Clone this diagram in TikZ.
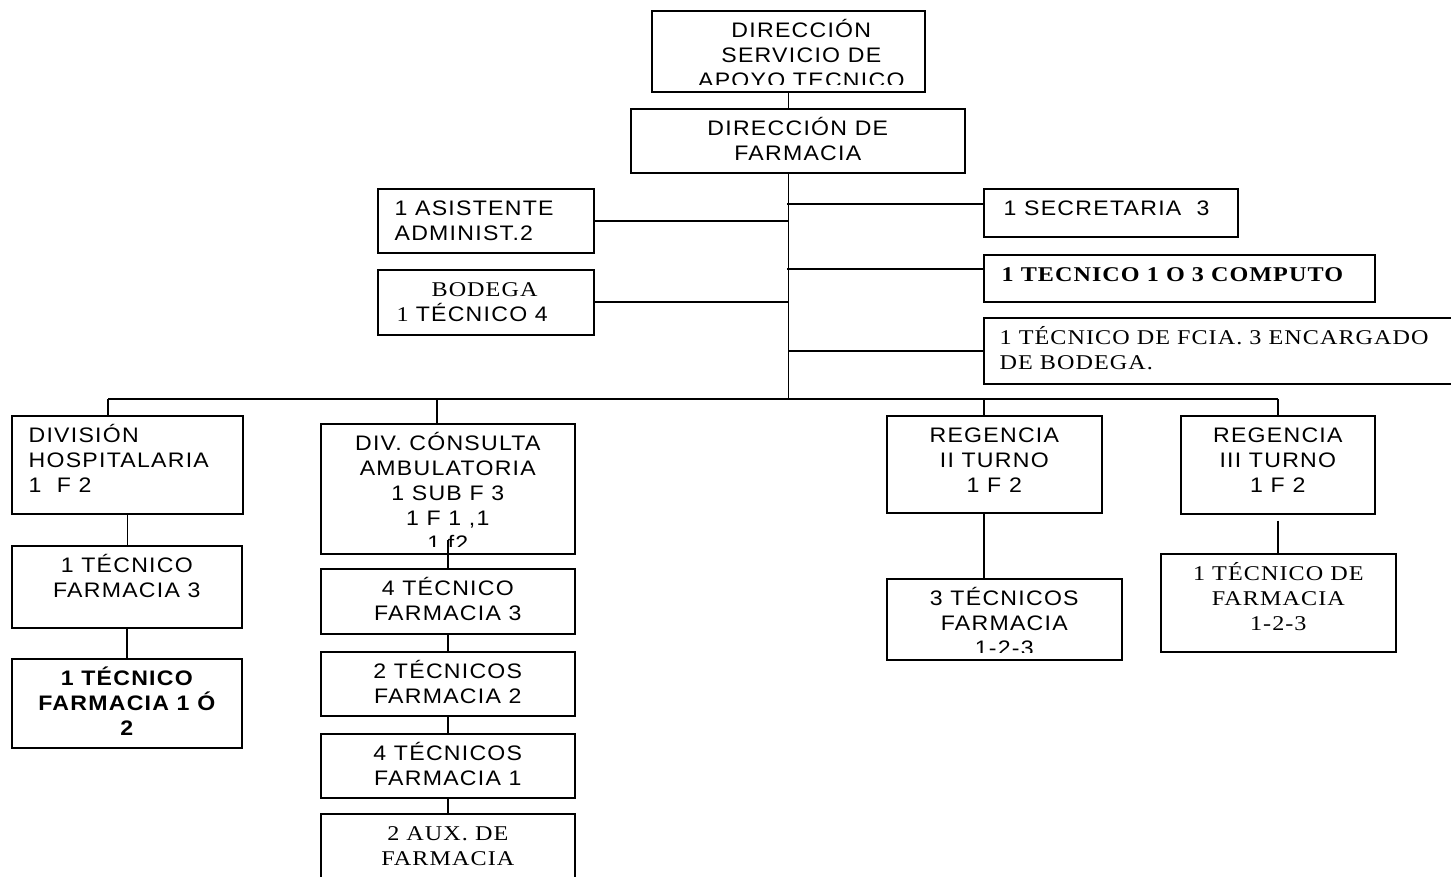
\documentclass[tikz,border=0pt]{standalone}
\usepackage{fontspec}
\setmainfont{Liberation Sans}
\newfontfamily\arialf{Liberation Sans}[FakeStretch=1.1,LetterSpace=6]
\newfontfamily\timesf{Liberation Serif}[FakeStretch=1.15,LetterSpace=5]
\newcommand\sansfnt{\arialf\fontsize{21pt}{25pt}\selectfont}
\newcommand\seriffnt{\timesf\fontsize{21pt}{25pt}\selectfont}
\newcommand\firstln{\rule{0pt}{26pt}}
\tikzset{
  orgbox/.style={draw=black, line width=1.6pt, inner sep=0pt, anchor=north west, rectangle},
  conn/.style={draw=black, line width=1.6pt},
  boxtext/.style={inner sep=0pt, draw=none, fill=none, minimum width=0pt, minimum height=0pt, rectangle, font=\sansfnt},
  ctr/.style 2 args={path picture={
     \clip ([yshift=7pt]path picture bounding box.south west) rectangle (path picture bounding box.north east);
     \node[boxtext, anchor=north, align=center] at ([xshift=#1]path picture bounding box.north) {\firstln#2};}},
  ltx/.style 2 args={path picture={
     \clip ([yshift=7pt]path picture bounding box.south west) rectangle (path picture bounding box.north east);
     \node[boxtext, anchor=north west, align=left] at ([xshift=#1]path picture bounding box.north west) {\firstln#2};}},
}
\begin{document}
\begin{tikzpicture}[x=1pt,y=-1pt]
\useasboundingbox (0,0) rectangle (1451,877);
\fill[white] (0,0) rectangle (1451,877);

% top
\node[orgbox, minimum width=273pt, minimum height=81pt, ctr={13pt}{\rule{0pt}{0pt}\vspace*{-2pt}DIRECCIÓN\\SERVICIO DE\\APOYO TECNICO}] (A) at (651,10) {};
\node[orgbox, minimum width=334pt, minimum height=64pt, ctr={0pt}{DIRECCIÓN DE\\FARMACIA}] (B) at (630,108) {};

% staff left
\node[orgbox, minimum width=216pt, minimum height=64pt, ltx={16pt}{1 ASISTENTE\\ADMINIST.2}] (asis) at (377,188) {};
\node[orgbox, minimum width=216pt, minimum height=65pt, ltx={18pt}{\seriffnt\hspace*{35pt}BODEGA\\\seriffnt 1 \sansfnt TÉCNICO 4}] (bod) at (377,269) {};

% staff right
\node[orgbox, minimum width=254pt, minimum height=48pt, ltx={19pt}{1 SECRETARIA\ \ 3}] (sec) at (983,188) {};
\node[orgbox, minimum width=391pt, minimum height=47pt, ltx={17pt}{\seriffnt\bfseries 1 TECNICO 1 O 3 COMPUTO}] (comp) at (983,254) {};
\node[orgbox, minimum width=480pt, minimum height=66pt, ltx={15pt}{\seriffnt 1 TÉCNICO DE FCIA. 3 ENCARGADO\\\seriffnt DE BODEGA.}] (fcia) at (983,317) {};

% left column
\node[orgbox, minimum width=231pt, minimum height=98pt, ltx={16pt}{DIVISIÓN\\HOSPITALARIA\\1\ \ F 2}] (divh) at (11,415) {};
\node[orgbox, minimum width=230pt, minimum height=82pt, ctr={0pt}{1 TÉCNICO\\FARMACIA 3}] (tf3) at (11,545) {};
\node[orgbox, minimum width=230pt, minimum height=89pt, ctr={0pt}{\bfseries 1 TÉCNICO\\\bfseries FARMACIA 1 Ó\\\bfseries 2}] (tf12) at (11,658) {};

% middle column
\node[orgbox, minimum width=254pt, minimum height=130pt, ctr={0pt}{DIV. CÓNSULTA\\AMBULATORIA\\1 SUB F 3\\1 F 1 ,1\\1 f2}] (div) at (320,423) {};
\node[orgbox, minimum width=254pt, minimum height=65pt, ctr={0pt}{4 TÉCNICO\\FARMACIA 3}] (t4) at (320,568) {};
\node[orgbox, minimum width=254pt, minimum height=64pt, ctr={0pt}{2 TÉCNICOS\\FARMACIA 2}] (t2) at (320,651) {};
\node[orgbox, minimum width=254pt, minimum height=64pt, ctr={0pt}{4 TÉCNICOS\\FARMACIA 1}] (t41) at (320,733) {};
\node[orgbox, minimum width=254pt, minimum height=72pt, ctr={0pt}{\seriffnt 2 AUX. DE\\\seriffnt FARMACIA}] (aux) at (320,813) {};

% right columns
\node[orgbox, minimum width=215pt, minimum height=97pt, ctr={0pt}{REGENCIA\\II TURNO\\1 F 2}] (reg2) at (886,415) {};
\node[orgbox, minimum width=235pt, minimum height=81pt, ctr={0pt}{3 TÉCNICOS\\FARMACIA\\1-2-3}] (t3) at (886,578) {};
\node[orgbox, minimum width=194pt, minimum height=98pt, ctr={0pt}{REGENCIA\\III TURNO\\1 F 2}] (reg3) at (1180,415) {};
\node[orgbox, minimum width=235pt, minimum height=98pt, ctr={0pt}{\seriffnt 1 TÉCNICO DE\\\seriffnt FARMACIA\\\seriffnt 1-2-3}] (t1) at (1160,553) {};

% connectors
\coordinate (d1) at (108,399);
\coordinate (d2) at (437,399);
\coordinate (d3) at (984,399);
\coordinate (d4) at (1278,399);
\coordinate (j1) at (787,204);
\coordinate (j2) at (787,269);

\draw[conn] (A.south) -- (A.south |- B.north);
\draw[conn] (A.south |- B.south) -- (A.south |- d1);
\draw[conn] (asis.east) -- (asis.east -| A.south);
\draw[conn] (bod.east) -- (bod.east -| A.south);
\draw[conn] (j1) -- (j1 -| sec.west);
\draw[conn] (j2) -- (j2 -| comp.west);
\draw[conn] (fcia.west) -- (fcia.west -| A.south);

\draw[conn] (d1) -- (d4);
\draw[conn] (d1) -- (d1 |- divh.north);
\draw[conn] (d2) -- (d2 |- div.north);
\draw[conn] (d3) -- (d3 |- reg2.north);
\draw[conn] (d4) -- (d4 |- reg3.north);

\draw[conn] (divh.south) -- (divh.south |- tf3.north);
\draw[conn] (tf3.south) -- (tf3.south |- tf12.north);

\draw[conn] ([yshift=15pt]div.south) -- (t4.north);
\draw[conn] (t4.south) -- (t2.north);
\draw[conn] (t2.south) -- (t41.north);
\draw[conn] (t41.south) -- (aux.north);

\draw[conn] (d3 |- reg2.south) -- (d3 |- t3.north);
\coordinate (r3b) at ([yshift=-6pt]reg3.south);
\draw[conn] (r3b -| d4) -- (d4 |- t1.north);
\end{tikzpicture}
\end{document}
